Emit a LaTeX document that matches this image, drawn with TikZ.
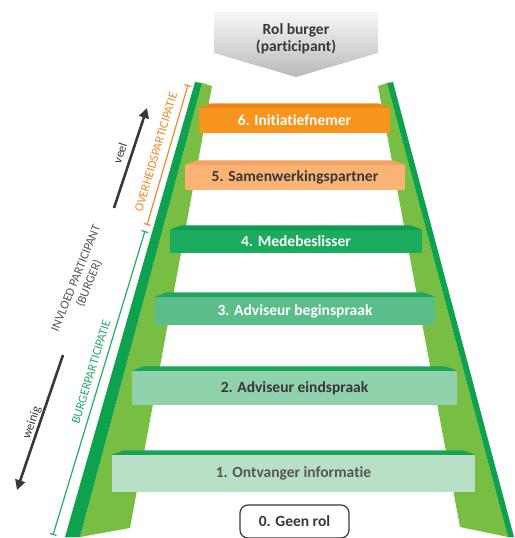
\documentclass[tikz,border=0pt]{standalone}
\usepackage{fontspec}
\setmainfont{Carlito}[Ligatures={NoCommon}]
\usetikzlibrary{arrows.meta, positioning, calc}

\definecolor{railgreen}{HTML}{78BE43}
\definecolor{raildark}{HTML}{0EA24E}
\definecolor{oranje}{HTML}{F7941E}
\definecolor{lichtoranje}{HTML}{FBB375}
\definecolor{groen4}{HTML}{1AAB5E}
\definecolor{groen3}{HTML}{5BBD8A}
\definecolor{groen2}{HTML}{8FD1AB}
\definecolor{groen1}{HTML}{B7E0C7}
\definecolor{vlak6}{HTML}{EE8516}
\definecolor{vlak5}{HTML}{F4A263}
\definecolor{vlak4}{HTML}{0F9C50}
\definecolor{vlak3}{HTML}{1FA65C}
\definecolor{vlak2}{HTML}{1AA558}
\definecolor{vlak1}{HTML}{18A457}
\definecolor{tekst}{HTML}{383838}
\definecolor{grijs}{HTML}{555555}
\definecolor{lijnoranje}{HTML}{F08A2C}
\definecolor{lijngroen}{HTML}{22AD63}

\begin{document}
\begin{tikzpicture}[x=1pt, y=-1pt,
    trede/.style={inner sep=0pt, font=\fontsize{15.5}{18}\selectfont\bfseries},
    annot/.style={inner sep=0pt, font=\fontsize{12.5}{14}\selectfont},
    haak/.style={line width=1.2pt, {Bar[width=7pt]}-{Bar[width=7pt]}},
    pijl/.style={draw=tekst, line width=2.6pt, -{Triangle[length=10pt,width=10pt]}}]
           \useasboundingbox (0,0) rectangle (514,538);

           \shade[top color=gray!6, bottom color=gray!55] (214,12) -- (378,12) -- (378,53) -- (296,77) -- (214,53) -- cycle;
           \node[trede, align=center, text=tekst] at (296,39) (rol) {Rol burger\\[-1pt](participant)};

           \fill[railgreen] (202,83) -- (212,86) -- (130,528) -- (80,537) -- cycle;
           \fill[raildark] (195,82) -- (202,83) -- (80,537) -- (65,537) -- cycle;
           \fill[railgreen] (378,86) -- (387,83) -- (508,537) -- (460,527) -- cycle;
           \fill[raildark] (387,83) -- (393,82) -- (514,537) -- (508,537) -- cycle;

           \node[trede, fill=oranje, text=white, minimum width=191pt, minimum height=25pt] at (294.5,120.5) (T6) {6. Initiatiefnemer};
           \node[trede, fill=lichtoranje, text=tekst, minimum width=220pt, minimum height=25pt] at (295,177.5) (T5) {5. Samenwerkingspartner};
           \node[trede, fill=groen4, text=white, minimum width=252pt, minimum height=23pt] at (296,241.5) (T4) {4. Medebeslisser};
           \node[trede, fill=groen3, text=white, minimum width=280pt, minimum height=28pt] at (295,311) (T3) {3. Adviseur beginspraak};
           \node[trede, fill=groen2, text=tekst, minimum width=325pt, minimum height=34pt] at (294.5,388) (T2) {2. Adviseur eindspraak};
           \node[trede, fill=groen1, text=tekst!85, minimum width=363pt, minimum height=37pt] at (293.5,473.5) (T1) {1. Ontvanger informatie};
           \foreach \t/\c in {T6/vlak6,T5/vlak5,T4/vlak4,T3/vlak3,T2/vlak2,T1/vlak1}
           {
            \fill[\c] (\t.north west) -- ([shift={(12pt,4.5pt)}]\t.north west) -- ([shift={(-12pt,4.5pt)}]\t.north east) -- (\t.north east) -- cycle;
           }

           \node[trede, draw=tekst, line width=1.2pt, rounded corners=8pt, text=tekst, minimum width=109pt, minimum height=33pt] at (294.5,521.5) (G0) {0. Geen rol};

           \coordinate (O1) at (188,85);
           \coordinate (O2) at (147,225);
           \coordinate (B1) at (145,231);
           \coordinate (B2) at (53,535);
           \draw[haak, lijnoranje] (O1) -- (O2);
           \draw[haak, lijngroen] (B1) -- (B2);
           \node[annot, text=lijnoranje, rotate=73.5] at (156,152) (ovh) {OVERHEIDSPARTICIPATIE};
           \node[annot, text=lijngroen, rotate=73] at (91,372) (bgp) {BURGERPARTICIPATIE};

           \coordinate (V1) at (114,208);
           \coordinate (V2) at (147,108);
           \coordinate (W1) at (63,355);
           \coordinate (W2) at (17,490);
           \draw[pijl] (V1) -- (V2);
           \draw[pijl] (W1) -- (W2);
           \node[annot, text=tekst, rotate=71.7] at (120,153) (veel) {veel};
           \node[annot, text=tekst, rotate=71.2] at (32,423) (weinig) {weinig};
           \node[annot, text=grijs, rotate=68, align=center] at (83,281) (invloed) {INVLOED PARTICIPANT\\(BURGER)};
        \end{tikzpicture}
\end{document}
